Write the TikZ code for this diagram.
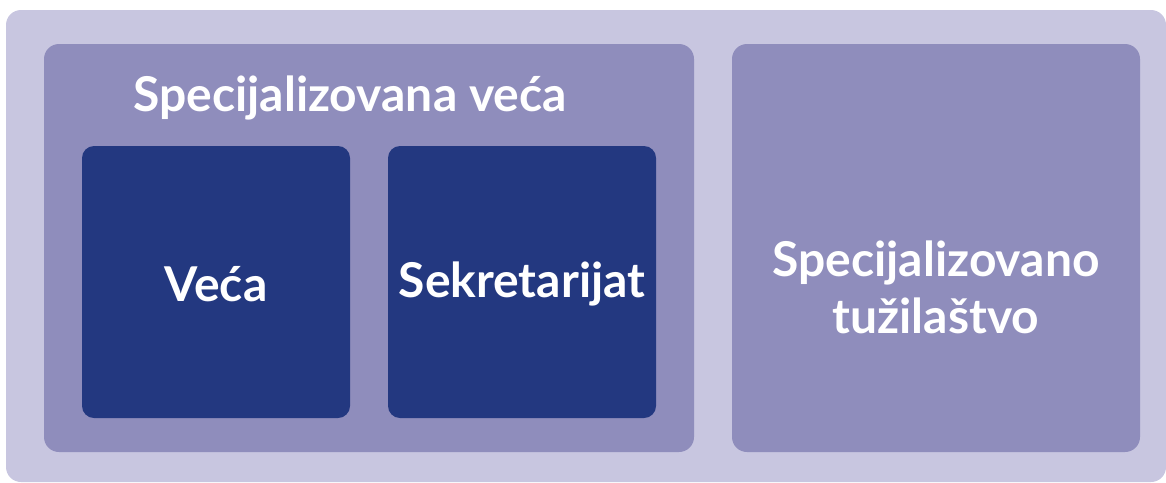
\documentclass[tikz,border=0pt]{standalone}
\usepackage{fontspec}
\setmainfont{Lato}
\definecolor{outerc}{HTML}{C8C6E0}
\definecolor{midc}{HTML}{8F8DBC}
\definecolor{darkc}{HTML}{233880}
\begin{document}
\begin{tikzpicture}[x=1pt,y=-1pt,
  lbl/.style={text=white,font=\bfseries\fontsize{48}{57}\selectfont,align=center,inner sep=0pt}]
\useasboundingbox (0,0) rectangle (1166,482);
\fill[outerc,rounded corners=15] (6,10) rectangle (1166,482);
\fill[midc,rounded corners=15] (44,44) rectangle (694,452);
\fill[midc,rounded corners=15] (732,44) rectangle (1140,452);
\fill[darkc,rounded corners=12] (82,146) rectangle (350,418);
\fill[darkc,rounded corners=12] (388,146) rectangle (656,418);
\node[lbl] (title) at (350,98) {Specijalizovana veća};
\node[lbl] (veca) at (216,284) {Veća};
\node[lbl] (sek) at (522,284) {Sekretarijat};
\node[lbl] (tuz) at (936,287) {Specijalizovano\\tužilaštvo};
\end{tikzpicture}
\end{document}
